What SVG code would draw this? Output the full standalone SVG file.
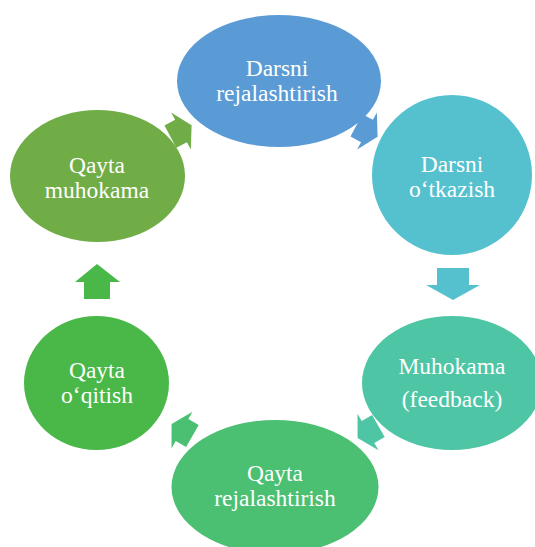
<svg xmlns="http://www.w3.org/2000/svg" width="535" height="547" viewBox="0 0 535 547">
  <style>
    .t { font-family: "Liberation Serif", "Times New Roman", serif; font-size: 23.5px; fill: #ffffff; text-anchor: middle; }
  </style>
  <defs>
    <polygon id="ra" points="-12,-12.6 0,-12.6 0,-21 12,0 0,21 0,12.6 -12,12.6"/>
  </defs>
  <rect width="535" height="547" fill="#ffffff"/>
  <g id="connectors">
    <use href="#ra" fill="#70AD47" transform="translate(181,131) rotate(-28)"/>
    <use href="#ra" fill="#5B9BD5" transform="translate(367,131) rotate(28)"/>
    <polygon fill="#55C1CE" points="437,268 469,268 469,285 480,285 453,300 426,285 437,285"/>
    <use href="#ra" fill="#4EC5A5" transform="translate(368,432) rotate(150)"/>
    <use href="#ra" fill="#4BBF72" transform="translate(182,430) rotate(210)"/>
    <polygon fill="#49B848" points="84,299 110,299 110,282 120,282 97,264 75,282 84,282"/>
  </g>
  <g id="node-darsni-rejalashtirish">
    <ellipse cx="279" cy="81" rx="102" ry="66" fill="#5B9BD5"/>
    <text class="t" x="277" y="76">Darsni</text>
    <text class="t" x="277" y="101">rejalashtirish</text>
  </g>
  <g id="node-darsni-otkazish">
    <ellipse cx="452" cy="175" rx="80" ry="80" fill="#55C1CE"/>
    <text class="t" x="452" y="172">Darsni</text>
    <text class="t" x="452" y="197">o‘tkazish</text>
  </g>
  <g id="node-muhokama">
    <ellipse cx="452" cy="383" rx="90" ry="67" fill="#4EC5A5"/>
    <text class="t" x="452" y="374">Muhokama</text>
    <text class="t" x="452" y="407">(feedback)</text>
  </g>
  <g id="node-qayta-rejalashtirish">
    <ellipse cx="275" cy="487" rx="103.5" ry="67" fill="#4BBF72"/>
    <text class="t" x="275" y="481">Qayta</text>
    <text class="t" x="275" y="506">rejalashtirish</text>
  </g>
  <g id="node-qayta-oqitish">
    <ellipse cx="96.5" cy="383" rx="72.5" ry="67" fill="#49B848"/>
    <text class="t" x="97" y="378">Qayta</text>
    <text class="t" x="97" y="403">o‘qitish</text>
  </g>
  <g id="node-qayta-muhokama">
    <ellipse cx="97.5" cy="176" rx="87.5" ry="66" fill="#70AD47"/>
    <text class="t" x="97" y="173">Qayta</text>
    <text class="t" x="97" y="198">muhokama</text>
  </g>
</svg>
